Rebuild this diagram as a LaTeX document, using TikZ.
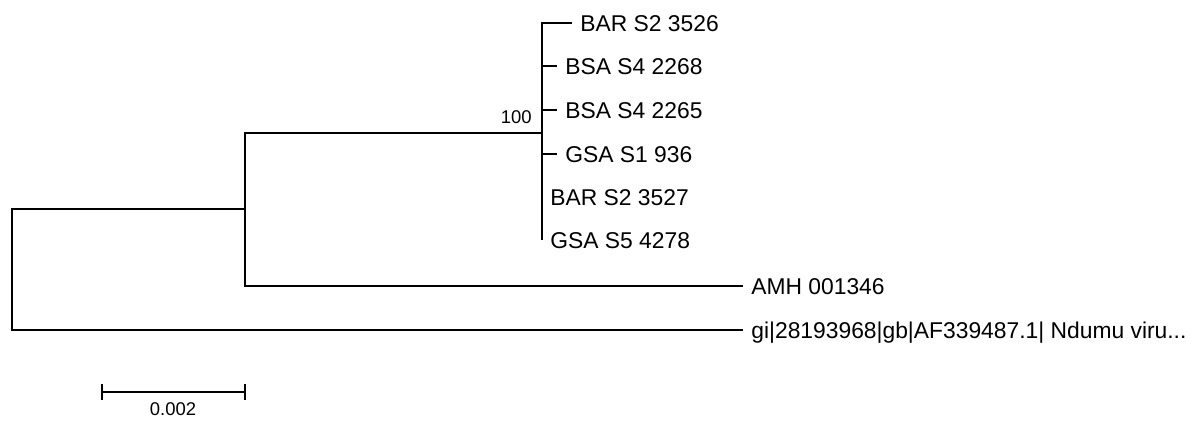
\documentclass[tikz,border=0pt]{standalone}
\usepackage{fontspec}
\setmainfont{Liberation Sans}
\usetikzlibrary{positioning, calc}

\begin{document}
\begin{tikzpicture}[x=0.02cm,y=-0.02cm, br/.style={draw=black,line width=0.9pt}, lf/.style={anchor=base west,inner sep=0pt,font=\fontsize{13}{15}\selectfont}, sm/.style={inner sep=0pt,font=\fontsize{10.5}{12}\selectfont}]
  \useasboundingbox (0,0) rectangle (1197,420);
  \coordinate (root) at (12,270);
  \coordinate (n1) at (245,209);
  \coordinate (n2) at (542,133);
  \foreach \t/\x/\y in {t1/572/23,t2/557/66,t3/557/110,t4/557/154,t5/542/197,t6/542/240,t7/743/286,t8/743/330}{\coordinate (\t) at (\x,\y);}
  \foreach \t/\l in {t1/BAR S2 3526,t2/BSA S4 2268,t3/BSA S4 2265,t4/GSA S1 936,t5/BAR S2 3527,t6/GSA S5 4278,t7/AMH 001346}{\node[lf](l\t) at ([shift={(8,8)}]\t){\l};}
  \node[lf](lt8) at ([shift={(8,8)}]t8){gi|28193968|gb|AF339487.1| Ndumu viru...};
  \draw[br](root)|-(n1);
  \draw[br](root)|-(t8);
  \draw[br](n1)|-(n2);
  \draw[br](n1)|-(t7);
  \foreach \t in {t1,t2,t3,t4,t5,t6}{\draw[br](n2)|-(\t);}
  \node[sm,anchor=base east](bt) at (532,123){100};
  % scale bar
  \coordinate (s0) at (102,392);
  \coordinate (s1) at (245,392);
  \draw[br](s0)--(s1);
  \draw[br]($(s0)+(0,-8)$)--($(s0)+(0,8)$);
  \draw[br]($(s1)+(0,-8)$)--($(s1)+(0,8)$);
  \node[sm](sl) at (173,409){0.002};
\end{tikzpicture}
\end{document}
